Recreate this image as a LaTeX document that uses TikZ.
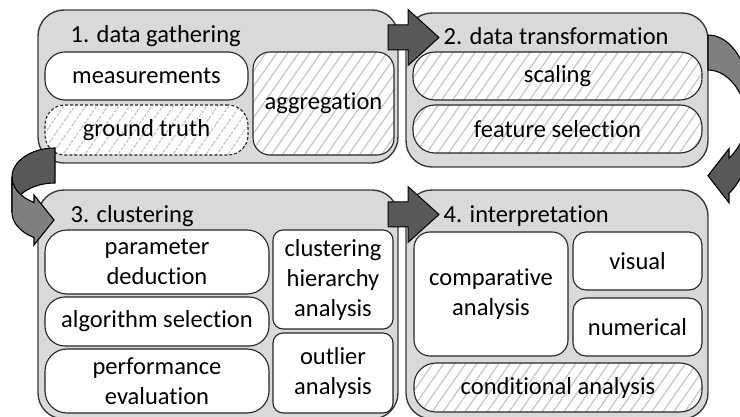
\documentclass[tikz,border=0pt]{standalone}
\usepackage{fontspec}
\setmainfont{Carlito}[Ligatures=NoCommon]
\usetikzlibrary{patterns.meta,calc}

\definecolor{panelfill}{HTML}{D9D9D9}
\definecolor{panelline}{HTML}{3A3A3A}
\definecolor{boxline}{HTML}{262626}
\definecolor{hatchgray}{HTML}{C8C8C8}
\definecolor{arrdark}{HTML}{595959}
\definecolor{arrlight}{HTML}{7F7F7F}

\tikzset{
  lbl/.style={font=\fontsize{24.5}{30}\selectfont, text=black, align=center},
  panel/.style={rectangle, draw=panelline, fill=panelfill, line width=1.4pt,
    rounded corners=26pt, inner sep=0pt},
  plainbox/.style={rectangle, lbl, draw=boxline, fill=white, line width=1.1pt,
    inner sep=0pt},
  hatchbox/.style={rectangle, lbl, draw=boxline, line width=1.1pt, inner sep=0pt,
    preaction={fill=white},
    pattern={Lines[angle=55,distance=9pt,line width=1.3pt]},
    pattern color=hatchgray},
  title/.style={lbl, anchor=base west, inner sep=0pt},
  blockarr/.style={draw=black, fill=arrdark, line width=1pt, line join=miter},
  curvdark/.style={draw=black, fill=arrdark, line width=1.1pt, line join=miter},
  curvlight/.style={draw=black, fill=arrlight, line width=1.1pt, line join=miter},
}

\begin{document}
\begin{tikzpicture}[x=1pt, y=-1pt]
\useasboundingbox (0,0) rectangle (740,417);
\clip (0,0) rectangle (740,417);

% ---- stage panels ----
\node[panel, minimum width=360pt, minimum height=153pt] (p1) at (218,86.5) {};
\node[panel, minimum width=302pt, minimum height=154pt] (p2) at (557,90) {};
\node[panel, minimum width=360pt, minimum height=229pt] (p3) at (218,304.5) {};
\node[panel, minimum width=302pt, minimum height=229pt] (p4) at (557,304.5) {};

\node[title] (t1) at (70.5,43) {1. data gathering};
\node[title] (t2) at (443.5,45) {2. data transformation};
\node[title] (t3) at (70.5,223) {3. clustering};
\node[title] (t4) at (443.5,223) {4. interpretation};

% ---- 1. data gathering ----
\node[plainbox, rounded corners=20pt, minimum width=203pt, minimum height=48pt]
  (meas) at (146.5,76) {measurements};
\node[hatchbox, rounded corners=20pt, dash pattern=on 3pt off 2pt,
  minimum width=203pt, minimum height=50pt] (gt) at (146.5,130) {ground truth};
\node[hatchbox, rounded corners=17pt, minimum width=141pt, minimum height=103pt]
  (agg) at (323.5,103.5) {aggregation};

% ---- 2. data transformation ----
\node[hatchbox, rounded corners=22pt, minimum width=289pt, minimum height=48pt]
  (scal) at (557.5,76) {scaling};
\node[hatchbox, rounded corners=22pt, minimum width=289pt, minimum height=48pt]
  (feat) at (557.5,129) {feature selection};

% ---- 3. clustering ----
\node[plainbox, rounded corners=22pt, minimum width=224pt, minimum height=64pt]
  (param) at (157,262) {parameter\\deduction};
\node[plainbox, rounded corners=20pt, minimum width=224pt, minimum height=49pt]
  (algo) at (157,321.5) {algorithm selection};
\node[plainbox, rounded corners=22pt, minimum width=224pt, minimum height=64pt]
  (perf) at (157,381) {performance\\evaluation};
\node[plainbox, rounded corners=10pt, minimum width=120pt, minimum height=99pt]
  (hier) at (333,279.5) {clustering\\hierarchy\\analysis};
\node[plainbox, rounded corners=10pt, minimum width=120pt, minimum height=80pt]
  (outl) at (333,373) {outlier\\analysis};

% ---- 4. interpretation ----
\node[plainbox, rounded corners=16pt, minimum width=154pt, minimum height=124pt]
  (comp) at (491,294) {comparative\\analysis};
\node[plainbox, rounded corners=13pt, minimum width=129pt, minimum height=58pt]
  (vis) at (637.5,261) {visual};
\node[plainbox, rounded corners=13pt, minimum width=129pt, minimum height=58pt]
  (num) at (637.5,327) {numerical};
\node[hatchbox, rounded corners=22pt, minimum width=288pt, minimum height=49pt]
  (cond) at (558,387.5) {conditional analysis};

% ---- straight block arrows between neighbouring stages ----
\coordinate (a12) at (439,37.5);
\coordinate (a34) at (439,214.5);
\foreach \tip in {a12,a34}{
  \draw[blockarr, shift={(\tip)}] (-51,-12.5) -- (-31,-12.5) -- (-31,-28) -- (0,0)
    -- (-31,28) -- (-31,12.5) -- (-51,12.5) -- cycle;
}

% ---- curved arrow from stage 1 down to stage 3 (left side) ----
\coordinate (c13) at (55,148);
\draw[curvdark] (c13) arc[start angle=270, end angle=180, x radius=43, y radius=29.1]
  -- (12,212.1) arc[start angle=180, end angle=270, x radius=43, y radius=29.1] -- cycle;
\draw[curvlight] (12,177.1) arc[start angle=180, end angle=119.2, x radius=43, y radius=29.1]
  -- (34,195) -- (54,220) -- (34,245) -- (34,237.5)
  arc[start angle=119.2, end angle=180, x radius=43, y radius=29.1] -- cycle;

% ---- curved arrow from stage 2 down to stage 4 (right side) ----
\coordinate (c24) at (708,35);
\draw[curvdark] (750,101) arc[start angle=0, end angle=60, x radius=42, y radius=66]
  -- (729,148.7) -- (708,175.7) -- (729,202.7) -- (729,193.2)
  arc[start angle=60, end angle=0, x radius=42, y radius=66] -- cycle;
\draw[curvlight] (c24) arc[start angle=270, end angle=360, x radius=42, y radius=66]
  -- (750,136) arc[start angle=0, end angle=-90, x radius=42, y radius=66] -- cycle;
\end{tikzpicture}
\end{document}
